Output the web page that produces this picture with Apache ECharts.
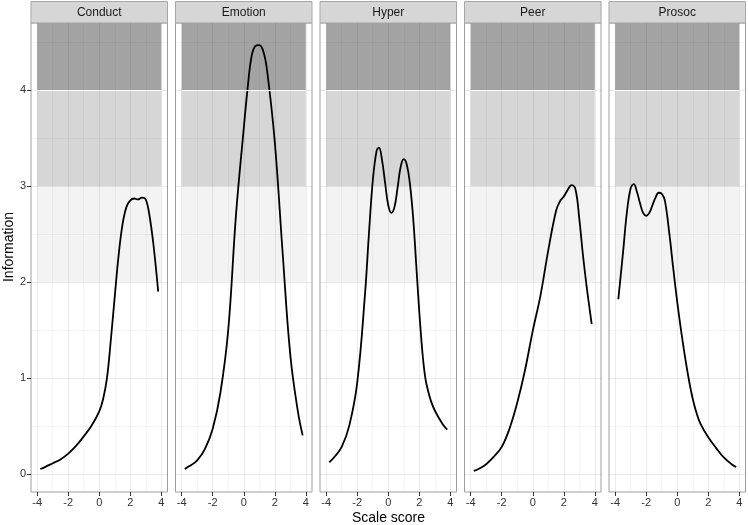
<!DOCTYPE html>
<html>
<head>
<meta charset="utf-8">
<title>Information by scale score</title>
<script src="https://cdn.jsdelivr.net/npm/echarts@6/dist/echarts.min.js"></script>
<style>
html,body{margin:0;padding:0;background:#fff;}
#main{width:748px;height:525px;}
</style>
</head>
<body>
<div id="main"></div>
<script>
// facet names, one panel each
var facetNames = ['Conduct', 'Emotion', 'Hyper', 'Peer', 'Prosoc'];

// information curves
var conductX = [-3.8,-3.5,-3,-2.5,-2,-1.5,-1,-0.5,0,0.25,0.5,0.75,1,1.25,1.5,1.75,2,2.25,2.5,2.75,3,3.25,3.5,3.8];
var conductY = [0.05,0.07,0.11,0.15,0.21,0.29,0.39,0.5,0.65,0.78,1.0,1.4,1.85,2.28,2.6,2.78,2.85,2.87,2.86,2.88,2.86,2.68,2.38,1.9];

var emotionX = [-3.8,-3.5,-3,-2.5,-2,-1.5,-1,-0.5,0,0.25,0.5,0.75,1,1.25,1.5,2,2.5,3,3.5,3.8];
var emotionY = [0.05,0.08,0.14,0.26,0.47,0.85,1.5,2.7,3.6,4.02,4.35,4.46,4.47,4.41,4.21,3.46,2.32,1.24,0.64,0.4];

var hyperX = [-3.8,-3.5,-3,-2.5,-2,-1.5,-1.25,-1,-0.75,-0.6,-0.4,-0.2,0,0.2,0.4,0.6,0.8,1,1.2,1.4,1.6,1.8,2,2.1,2.2,2.3,2.4,2.5,2.75,3,3.5,3.8];
var hyperY = [0.12,0.17,0.28,0.51,0.95,1.87,2.49,3.05,3.37,3.40,3.27,3.03,2.8,2.72,2.78,2.98,3.2,3.28,3.22,3.02,2.68,2.19,1.69,1.47,1.27,1.11,0.99,0.91,0.76,0.66,0.52,0.46];

var peerX = [-3.8,-3.5,-3,-2.5,-2,-1.5,-1,-0.5,0,0.5,1,1.5,1.75,2,2.25,2.5,2.75,3,3.25,3.5,3.8];
var peerY = [0.03,0.05,0.1,0.18,0.28,0.47,0.74,1.08,1.49,1.86,2.33,2.74,2.84,2.89,2.96,3.01,2.97,2.66,2.26,1.92,1.56];

var prosocX = [-3.8,-3.5,-3.25,-3,-2.8,-2.6,-2.4,-2.2,-2,-1.8,-1.6,-1.4,-1.2,-1,-0.8,-0.5,-0.25,0,0.25,0.5,0.75,1,1.25,1.5,2,2.5,3,3.5,3.8];
var prosocY = [1.82,2.3,2.72,2.98,3.02,2.94,2.82,2.72,2.69,2.72,2.8,2.88,2.93,2.92,2.85,2.49,2.13,1.79,1.49,1.22,0.98,0.78,0.63,0.52,0.38,0.27,0.17,0.1,0.07];

var curvesX = [conductX, emotionX, hyperX, peerX, prosocX];
var curvesY = [conductY, emotionY, hyperY, peerY, prosocY];

// axes and guides
var xTicks = [-4, -2, 0, 2, 4];
var yTicks = [0, 1, 2, 3, 4];
var xGridMajor = [-4, -2, 0, 2, 4];
var xGridMinor = [-3, -1, 1, 3];
var yGridMajor = [0, 1, 2, 3, 4];
var yGridMinor = [0.5, 1.5, 2.5, 3.5, 4.5];
var bandLow = [2, 3, 4];
var bandHigh = [3, 4, 4.7];
var bandColors = ['#f3f3f3', '#d6d6d6', '#a3a3a3'];

var xMin = -4.4, xMax = 4.4, yMin = -0.19, yMax = 4.7;
var panelLeft = [31, 175.5, 320, 464.5, 609];
var panelW = 136.5, panelTop = 23, panelH = 469;
var font = 'Liberation Sans, Arial, sans-serif';

var myChart = echarts.init(document.getElementById('main'));

var grids = [], xAxes = [], yAxes = [], series = [], graphics = [];

function pairs(xs, ys) {
    var out = [];
    for (var i = 0; i < xs.length; i++) {
        out.push([xs[i], ys[i]]);
    }
    return out;
}

for (var i = 0; i < facetNames.length; i++) {
    grids.push({
        left: panelLeft[i], top: panelTop, width: panelW, height: panelH,
        show: true, borderColor: '#9e9e9e', borderWidth: 1, backgroundColor: '#fff'
    });
    xAxes.push({
        type: 'value', gridIndex: i, min: xMin, max: xMax, position: 'bottom',
        axisLine: {show: false, onZero: false},
        splitLine: {show: false},
        axisTick: {show: true, length: 4, customValues: xTicks, lineStyle: {color: '#333'}},
        axisLabel: {customValues: xTicks, fontSize: 11, color: '#333', margin: 5, fontFamily: font}
    });
    yAxes.push({
        type: 'value', gridIndex: i, min: yMin, max: yMax, position: 'left',
        axisLine: {show: false, onZero: false},
        splitLine: {show: false},
        axisTick: {show: i == 0, length: 4, customValues: yTicks, lineStyle: {color: '#333'}},
        axisLabel: {show: i == 0, customValues: yTicks, fontSize: 11, color: '#333', margin: 5, fontFamily: font}
    });

    var areas = [];
    for (var b = 0; b < bandLow.length; b++) {
        areas.push([
            {xAxis: -4, yAxis: bandLow[b], itemStyle: {color: bandColors[b]}},
            {xAxis: 4, yAxis: bandHigh[b]}
        ]);
    }

    var lines = [];
    xGridMinor.forEach(function (v) { lines.push({xAxis: v, lineStyle: {color: 'rgba(0,0,0,0.035)', width: 1, type: 'solid'}}); });
    yGridMinor.forEach(function (v) { lines.push({yAxis: v, lineStyle: {color: 'rgba(0,0,0,0.035)', width: 1, type: 'solid'}}); });
    xGridMajor.forEach(function (v) { lines.push({xAxis: v, lineStyle: {color: 'rgba(0,0,0,0.075)', width: 1, type: 'solid'}}); });
    yGridMajor.forEach(function (v) { lines.push({yAxis: v, lineStyle: {color: 'rgba(0,0,0,0.075)', width: 1, type: 'solid'}}); });
    // white edge on top of the upper band
    lines.push([
        {coord: [-4, 4], lineStyle: {color: '#fff', width: 1.2, type: 'solid'}},
        {coord: [4, 4]}
    ]);

    series.push({
        name: facetNames[i],
        type: 'line',
        xAxisIndex: i,
        yAxisIndex: i,
        data: pairs(curvesX[i], curvesY[i]),
        smooth: 0.4,
        showSymbol: false,
        symbol: 'none',
        lineStyle: {color: '#000', width: 1.8},
        z: 3,
        animation: false,
        markArea: {silent: true, data: areas},
        markLine: {silent: true, symbol: 'none', label: {show: false}, animation: false, data: lines}
    });

    // facet strip
    graphics.push({
        type: 'rect',
        shape: {x: panelLeft[i], y: 1.5, width: panelW, height: panelTop - 1.5},
        style: {fill: '#d6d6d6', stroke: '#a6a6a6', lineWidth: 1}
    });
    graphics.push({
        type: 'text',
        x: panelLeft[i] + panelW / 2, y: 12.5,
        style: {text: facetNames[i], fill: '#1a1a1a', font: '12px ' + font, textAlign: 'center', textVerticalAlign: 'middle'}
    });
}

graphics.push({
    type: 'text', x: 388.5, y: 518,
    style: {text: 'Scale score', fill: '#000', font: '14px ' + font, textAlign: 'center', textVerticalAlign: 'middle'}
});
graphics.push({
    type: 'text', x: 9, y: 247, rotation: Math.PI / 2,
    style: {text: 'Information', fill: '#000', font: '14px ' + font, textAlign: 'center', textVerticalAlign: 'middle'}
});

var option = {
    backgroundColor: '#fff',
    animation: false,
    grid: grids,
    xAxis: xAxes,
    yAxis: yAxes,
    series: series,
    graphic: graphics
};
myChart.setOption(option);
</script>
</body>
</html>
